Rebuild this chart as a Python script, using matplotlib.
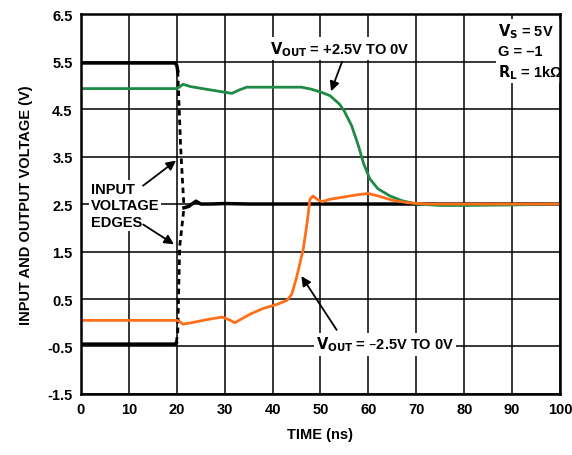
import numpy as np
import matplotlib.pyplot as plt

plt.rcParams['font.family'] = ['Liberation Sans', 'DejaVu Sans']
plt.rcParams['font.weight'] = 'bold'

# time (ns) / voltage (V)
t_green = [0, 20, 20.5, 21.3, 23, 26, 29, 31.5, 33, 34.6, 40, 46, 48, 50, 52, 54, 55,
           56.5, 58, 59, 60.3, 62, 64.5, 67, 70, 75, 80, 90, 100]
v_green = [4.93, 4.93, 4.96, 5.02, 4.97, 4.92, 4.87, 4.83, 4.9, 4.96, 4.96, 4.96, 4.92,
           4.86, 4.78, 4.6, 4.45, 4.15, 3.7, 3.35, 3.03, 2.82, 2.67, 2.57, 2.5, 2.47,
           2.47, 2.48, 2.5]

t_orange = [0, 20, 20.5, 21.3, 23, 26, 29.4, 31, 32.1, 33.5, 35.3, 38, 41, 43, 44, 45,
            46.4, 47.2, 47.8, 48.4, 49.3, 50.3, 52, 55, 58, 60, 62, 65, 68, 72, 100]
v_orange = [0.05, 0.05, 0.03, -0.03, 0.0, 0.06, 0.12, 0.06, 0.0, 0.08, 0.18, 0.3, 0.39,
            0.47, 0.6, 0.95, 1.55, 2.1, 2.6, 2.67, 2.6, 2.55, 2.6, 2.65, 2.7, 2.72, 2.67,
            2.58, 2.53, 2.5, 2.5]

t_in_high = [0, 19.6, 20.0, 20.2]
v_in_high = [5.47, 5.47, 5.42, 5.3]
t_in_low = [0, 19.6, 19.9]
v_in_low = [-0.45, -0.45, -0.42]
t_fall = [20.2, 20.8, 21.5]
v_fall = [5.3, 3.7, 2.42]
t_rise = [19.9, 20.2, 20.6, 21.5]
v_rise = [-0.42, -0.2, 1.6, 2.42]
t_settle = [21.5, 22.5, 24, 25, 27, 30, 35, 100]
v_settle = [2.42, 2.45, 2.56, 2.5, 2.5, 2.51, 2.5, 2.5]

green = '#1f8a45'
orange = '#ff6f1a'

fig = plt.figure(figsize=(5.72, 4.56), dpi=100)
ax = fig.add_axes([0.1416, 0.1338, 0.8374, 0.8332])

ax.plot(t_in_high, v_in_high, color='black', lw=2.5, zorder=3)
ax.plot(t_in_low, v_in_low, color='black', lw=2.5, zorder=3)
ax.plot(t_fall, v_fall, color='black', lw=2, ls=(0, (2, 1.5)), zorder=3)
ax.plot(t_rise, v_rise, color='black', lw=2, ls=(0, (2, 1.5)), zorder=3)
ax.plot(t_settle, v_settle, color='black', lw=2.5, zorder=3)
ax.plot(t_green, v_green, color=green, lw=2, zorder=4)
ax.plot(t_orange, v_orange, color=orange, lw=2, zorder=4)

ax.set_xlim(0, 100)
ax.set_ylim(-1.5, 6.5)
ax.set_xticks(np.arange(0, 101, 10))
ax.set_yticks(np.arange(-1.5, 6.6, 1.0))
ax.set_yticklabels(['%.1f' % v for v in np.arange(-1.5, 6.6, 1.0)])
ax.grid(True, color='black', lw=1.1)
ax.set_axisbelow(True)
ax.tick_params(length=0, labelsize=10.5, pad=6)
for s in ax.spines.values():
    s.set_linewidth(1.8)
    s.set_zorder(8)

ax.set_xlabel('TIME (ns)', fontsize=10.5, fontweight='bold', labelpad=8)
ax.set_ylabel('INPUT AND OUTPUT VOLTAGE (V)', fontsize=10.5, fontweight='bold', labelpad=10)

wbox = dict(facecolor='white', edgecolor='none', pad=1.5)
ax.text(87.0, 5.72, '$\\mathbf{V_S}$ = 5V\nG = \u20131\n$\\mathbf{R_L}$ = 1k\u03a9',
        fontsize=10.5, fontweight='bold', va='center', ha='left', linespacing=1.35,
        bbox=wbox, zorder=6)
ax.text(54, 5.78, '$\\mathbf{V_{OUT}}$ = +2.5V TO 0V', fontsize=10.5, fontweight='bold',
        ha='center', va='center', bbox=wbox, zorder=6)
ax.text(63.5, -0.45, '$\\mathbf{V_{OUT}}$ = \u20132.5V TO 0V', fontsize=10.5,
        fontweight='bold', ha='center', va='center', bbox=wbox, zorder=6)
ax.text(2, 2.47, 'INPUT\nVOLTAGE\nEDGES', fontsize=10.5, fontweight='bold',
        ha='left', va='center', linespacing=1.2, bbox=wbox, zorder=6)

arw = dict(arrowstyle='-|>', color='black', lw=1.3, mutation_scale=14)
ax.annotate('', xy=(52, 4.82), xytext=(54.7, 5.55), arrowprops=arw, zorder=7)
ax.annotate('', xy=(45.7, 1.03), xytext=(53.7, -0.2), arrowprops=arw, zorder=7)
ax.annotate('', xy=(20.3, 3.45), xytext=(12.5, 2.85), arrowprops=arw, zorder=7)
ax.annotate('', xy=(19.9, 1.62), xytext=(12.5, 2.1), arrowprops=arw, zorder=7)

fig.savefig('out.png', dpi=100)
